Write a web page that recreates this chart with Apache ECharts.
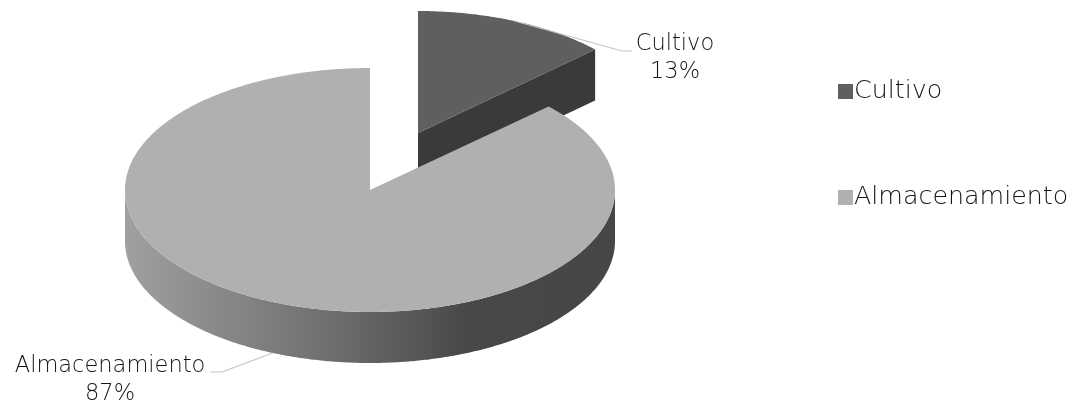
<!DOCTYPE html>
<html>
<head>
<meta charset="utf-8">
<style>html,body{margin:0;padding:0;background:#fff}#c{width:1073px;height:401px}</style>
<script src="https://cdn.jsdelivr.net/npm/echarts@6/dist/echarts.min.js"></script>
</head>
<body>
<div id="c"></div>
<script>
const categories = ['Cultivo', 'Almacenamiento'];
const values = [13, 87];
const topColors = ['#5f5f5f', '#b0b0b0'];

const FONT = '"DejaVu Sans"';
const TEXT = '#14141e';
const RY = 122, DEPTH = 51;
// per slice layout: pie centre, radius, label centre, leader elbow points
const layouts = [
  { cx: 418, cy: 133, rx: 243, labelX: 675, labelY: 58, elbow: [[622, 51], [632, 51]] },
  { cx: 370, cy: 190, rx: 245, labelX: 110, labelY: 380, elbow: [[222, 372], [210, 372]] }
];
const sideGradient = { type: 'linear', x: 125, y: 0, x2: 615, y2: 0, global: true, colorStops: [
  { offset: 0, color: '#a0a0a0' }, { offset: 0.42, color: '#6e6e6e' },
  { offset: 0.7, color: '#484848' }, { offset: 1, color: '#464646' } ] };

const total = values.reduce((a, b) => a + b, 0);
function startAngle(i) { return values.slice(0, i).reduce((a, b) => a + b, 0) / total * 360; }
function pt(l, deg, dy) {
  const r = deg * Math.PI / 180;
  return [l.cx + l.rx * Math.sin(r), l.cy - RY * Math.cos(r) + (dy || 0)];
}
function arc(l, a, b, dy) {
  const out = [];
  for (let d = a; d < b; d += 0.5) out.push(pt(l, d, dy));
  out.push(pt(l, b, dy));
  return out;
}
function renderSlice(i) {
  return function (params, api) {
    const l = layouts[i];
    const a = startAngle(i), b = a + api.value(0) / total * 360;
    const kids = [];
    // front wall
    const fa = Math.max(a, 90), fb = Math.min(b, 270);
    if (fb > fa) {
      kids.push({ type: 'polygon', shape: { points: arc(l, fa, fb, 0).concat(arc(l, fa, fb, DEPTH).reverse()) },
        style: { fill: sideGradient } });
    }
    // visible cut face
    if (b <= 90) {
      const e = pt(l, b);
      kids.push({ type: 'polygon', shape: { points: [[l.cx, l.cy], e, [e[0], e[1] + DEPTH], [l.cx, l.cy + DEPTH]] },
        style: { fill: '#3a3a3a' } });
    }
    // top face
    kids.push({ type: 'polygon', shape: { points: [[l.cx, l.cy]].concat(arc(l, a, b, 0)) },
      style: { fill: topColors[i] } });
    // leader line from the middle of the slice
    const mid = (a + b) / 2;
    const anchor = pt(l, mid, Math.cos(mid * Math.PI / 180) < 0 ? DEPTH : 0);
    kids.push({ type: 'polyline', shape: { points: [anchor].concat(l.elbow) },
      style: { fill: null, stroke: '#c4c4c4', lineWidth: 1.2 } });
    // label
    kids.push({ type: 'text', style: { x: l.labelX, y: l.labelY, align: 'center', verticalAlign: 'middle',
      text: categories[i] + '\n' + Math.round(api.value(0) / total * 100) + '%',
      font: '200 22.5px ' + FONT, lineHeight: 28, fill: TEXT } });
    return { type: 'group', children: kids };
  };
}

const chart = echarts.init(document.getElementById('c'), null, { renderer: 'canvas' });
chart.setOption({
  animation: false,
  backgroundColor: '#ffffff',
  legend: {
    orient: 'vertical', left: 833, top: 74, itemWidth: 15, itemHeight: 15, itemGap: 81, icon: 'rect',
    selectedMode: false, data: categories,
    textStyle: { fontFamily: FONT, fontWeight: 200, fontSize: 25.3, color: TEXT, padding: [0, 0, 0, -4] }
  },
  series: categories.map((name, i) => ({
    type: 'custom', name, coordinateSystem: 'none', silent: true,
    itemStyle: { color: topColors[i] },
    data: [[values[i]]],
    renderItem: renderSlice(i)
  }))
});
</script>
</body>
</html>
